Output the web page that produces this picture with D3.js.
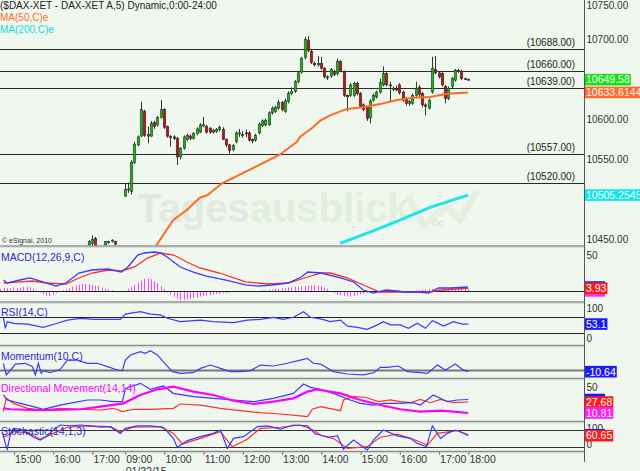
<!DOCTYPE html>
<html><head><meta charset="utf-8">
<script src="https://cdn.jsdelivr.net/npm/d3@7"></script>
<style>
body{margin:0;background:#f0f7ef;}
svg{display:block;}
text{font-family:"Liberation Sans",Arial,sans-serif;}
</style></head>
<body><svg id="c" width="640" height="471"></svg>
<script>
// ---------------- DATA ----------------
const headerText = "($DAX-XET - DAX-XET A,5) Dynamic,0:00-24:00";
const ma50Name = "MA(50,C)e", ma200Name = "MA(200,C)e";
const timeLabels = ["15:00","16:00","17:00","09:00","10:00","11:00","12:00","13:00","14:00","15:00","16:00","17:00","18:00"];
const timeIdx    = [4,16,28,38,50,62,74,86,98,110,122,134,143];
const dateLabel = "01/22/15", dateIdx = 38;
const priceTicks = [10450,10550,10600,10700,10750];
const levels = [10688,10660,10639,10557,10520];

// day 1 (only the bars that reach into the visible price range)
const d1Idx   = [27,28,29,32,33,34,35];
const d1Open  = [10443,10445,10451,10443,10446,10448,10447];
const d1High  = [10449,10455,10453,10448,10448,10450,10448];
const d1Low   = [10440,10442,10440,10441,10444,10446,10442];
const d1Close = [10447,10450,10442,10447,10447,10449,10444];

// day 2, 5-minute bars from 09:00 (bar index 38 onward)
const d2Start = 38;
const d2Open  = [10504,10512,10510,10546,10568,10579,10610,10581,10579,10596,10593,10602,10612,10591,10579,10578,10576,10553,10564,10575,10579,10576,10582,10584,10592,10591,10589,10584,10585,10587,10587,10575,10568,10562,10572,10582,10581,10583,10583,10575,10574,10583,10592,10593,10593,10608,10610,10614,10621,10610,10622,10632,10635,10647,10659,10677,10699,10685,10670,10668,10670,10664,10653,10654,10660,10657,10672,10659,10630,10630,10630,10645,10632,10618,10615,10602,10624,10628,10634,10643,10657,10643,10637,10638,10643,10634,10626,10620,10620,10630,10640,10632,10618,10614,10634,10662,10658,10657,10641,10626,10641,10649,10661,10660,10651,10650];
const d2High  = [10520,10521,10549,10572,10580,10622,10612,10591,10598,10598,10604,10624,10614,10592,10580,10580,10578,10565,10580,10582,10581,10584,10590,10595,10603,10593,10590,10588,10589,10592,10590,10576,10569,10569,10585,10588,10585,10587,10585,10576,10582,10596,10600,10601,10610,10616,10617,10624,10623,10626,10635,10640,10649,10660,10678,10703,10704,10687,10672,10679,10678,10665,10655,10664,10662,10676,10674,10661,10631,10645,10647,10647,10634,10620,10617,10625,10632,10636,10651,10666,10659,10647,10641,10642,10645,10636,10628,10624,10632,10647,10643,10634,10620,10626,10678,10679,10660,10659,10643,10641,10653,10663,10663,10662,10652,10651];
const d2Low   = [10503,10508,10506,10544,10566,10578,10578,10570,10578,10588,10591,10601,10588,10577,10566,10574,10543,10550,10562,10573,10574,10575,10580,10583,10590,10582,10582,10582,10583,10585,10574,10565,10557,10560,10570,10578,10577,10578,10572,10570,10572,10581,10590,10591,10592,10606,10608,10612,10610,10608,10620,10630,10633,10645,10657,10675,10684,10669,10666,10666,10662,10651,10649,10652,10654,10655,10659,10628,10610,10628,10628,10630,10614,10610,10598,10595,10622,10626,10632,10641,10641,10622,10635,10635,10631,10622,10617,10617,10618,10628,10628,10615,10605,10612,10632,10656,10651,10641,10620,10624,10639,10647,10658,10649,10649,10649];
const d2Close = [10512,10513,10546,10569,10578,10612,10580,10579,10595,10591,10602,10612,10590,10579,10577,10576,10553,10564,10578,10580,10576,10582,10588,10593,10593,10584,10584,10586,10587,10590,10575,10568,10561,10567,10583,10583,10580,10582,10574,10573,10580,10594,10598,10599,10608,10614,10615,10621,10612,10623,10632,10635,10647,10658,10676,10700,10686,10671,10668,10670,10664,10653,10652,10662,10656,10672,10661,10630,10628,10643,10645,10632,10616,10612,10601,10623,10630,10634,10646,10657,10643,10642,10639,10637,10633,10624,10620,10622,10630,10639,10631,10618,10616,10624,10664,10658,10653,10643,10626,10639,10651,10661,10660,10651,10650,10649.58];

const ma50Idx = [47.3,52.8,57.1,61.0,63.2,67.8,76.3,85.5,90.7,91.6,95.6,97.7,100.8,106,110.9,116.1,121.3,126.2,131.4,136.6,143];
const ma50Val = [10440,10474,10487,10502,10505,10520,10537,10556,10572,10578,10590,10598,10605,10613,10615,10619,10624,10627,10628,10632,10633.6144];
const ma200Idx = [103.9,113,122.2,131.4,143];
const ma200Val = [10445,10459,10474,10490,10505.2545];

const macdIdx = [1,2,6,9,13,17,20,24,28,33,37,39,42,44,47,49,51,55,59,63,69,75,79,83,88,92,94,98,104,108,111,114,118,124,128,131,134,138,143];
const macdVal = [15.7,11.4,15.7,18.6,12.9,7.1,11.4,25.7,30,31.4,27.1,34.3,51.4,54.3,55.7,54.3,48.6,34.3,27.1,21.4,15.7,8.6,7.1,8.6,11.4,20,27.1,25.7,18.6,12.9,1.4,-2.9,1.4,-1.4,-1.4,-2.9,4.3,4.3,5.7];
const sigIdx = [1,6,10,14,20,24,28,33,37,41,45,49,53,57,61,67,75,82,88,94,98,101,106,111,116,120,126,131,135,143];
const sigVal = [11.4,12.9,14.3,11.4,10,18.6,25.7,30,28.6,34.3,47.1,54.3,51.4,41.4,32.9,25.7,12.9,10,11.4,20,25.7,25.7,18.6,8.6,-1.4,-1.4,-1.4,-1.4,1.4,3.93];
const histVal = [3,4,4,4,5,4, 5,6,6,5, 3,1, -2,-5,-7,-7,-5,-3, -1,1, 2,4,6,8,9,10,10,10,9,8,7, 5,3,2,1, 0,-1,-2,-1, 3,6,9,12,15,17,18,17, 14,11,7,3, -2,-5,-8,-11,-13,-13,-12,-11,-10,-9,-8, -7,-6,-6,-5,-4,-4,-3,-3,-2,-2,-1,-1, 0,-1,0,-1,0,0,1,1, 2,2,3,3,4,4,5,5,6,6,7,7,8,8,9,8,7, 5,3, -1,-3,-5,-6,-7,-8,-8,-7,-6,-5,-4,-3,-2, -1,0,1,1,0,-1,0,1,1,0,-1,-1,0,1,1, 2,2,3,3,3,3,3,3,2,2,2,3,3,3,3];

const rsiIdx = [0.9,1.5,2.1,4,8.3,13.1,17.4,20.5,24.5,28.4,33.6,36.7,38.2,42.8,45.9,48.9,51.1,55,61.2,65.1,71.3,75.5,79.5,83.5,86.5,89.6,92.7,94.8,97.9,100.9,104,106.1,109.2,112.2,115.3,117.1,119.3,122.3,124.8,127.5,130,132.1,133.6,135.5,138.5,141.3,143.1];
const rsiVal = [70,42.5,59,55,53,45,55,63,67.5,65,65,65,78,84,78,76,67.5,59,63,59,56.5,63,65,70,65,70,84,70,66,59,63,48,45,40,51,59,51,51,42.5,55,42.5,61.5,56,48,59,53,53.1];

const momIdx = [0.9,1.8,3.1,4.6,7.6,9.8,10.7,11.6,12.5,13.1,15.3,18.3,20.5,23.5,26.6,29.7,32.7,35.8,37.3,38.2,39.8,42.8,44.3,45.9,48,49.8,52.6,55,59,61.2,64.2,67.3,70.3,73.4,76.5,79.5,83.5,87.8,91.7,93.9,95.7,97.9,101.8,106.1,111,114.1,116.2,118.3,121.7,124.5,128.4,130.6,133.6,136.1,139.1,141.3,143.1];
const momVal = [42,-31,0,37,42,21,-31,42,-21,-4,-17,4,62,62,42,42,21,0,-4,62,94,115,104,121,94,52,-10,-21,-17,10,31,10,-10,-10,-4,31,25,42,62,73,42,37,-10,-25,-31,-17,17,17,25,-10,-17,-21,31,0,37,4,-10.64];

const adxIdx = [0.9,3.1,10.1,15.3,24.5,30.6,37.6,42.8,48,52.9,59,65.1,71.3,77.4,83.5,89.6,93.9,96.9,97.9,104,110.1,116.2,122.3,128.4,134.6,138.5,143.1];
const adxVal = [18,16.5,15.4,15.4,16.5,20.5,25.6,38.5,47.2,51.3,43.6,38.5,29.7,24.6,28.2,33.3,43.6,47.2,46.2,41,30.8,23,16.5,12.8,14.3,12.8,10.81];
const pdiIdx = [0.9,2.1,6.1,10.1,13.1,18.3,22.3,26.6,30.6,34.6,37.3,38.2,42.8,45.9,49.8,52.9,59,65.1,71.3,77.4,83.5,89.6,92.7,94.8,97.9,101.8,107,110.1,114.1,117.1,121.4,126.3,128.4,132.4,136.7,139.8,143.1];
const pdiVal = [38.5,30.8,25.6,20.5,16.5,23,26.6,30.8,30.8,28.2,28.2,48.7,56.4,47.2,52.3,41,35.9,33.3,30.8,28.2,33.3,41,55.4,50.3,47.2,41,30.8,25.6,23,25.6,25.6,26.6,23,38.5,28.2,30.8,31.5];
const mdiIdx = [0.9,1.8,4,8.3,13.1,18.3,24.5,30.6,34.6,37.3,40.7,45.9,52.9,55,61.2,67.3,73.4,79.5,85.6,91.7,93.9,95.4,97.9,104,104.9,108,111.6,115.6,119.3,122.3,125.4,128.4,131.5,134.6,138.5,143.1];
const mdiVal = [12.8,33.3,25.6,18,15.4,18,16.5,15.4,18,12.8,16.5,16.5,18,24.6,23,18,14.3,11.2,9.2,6.2,5.1,16.5,20.5,14.3,30.8,35.9,35,28.2,30.8,28.2,26.6,31.8,26.6,31.8,26.6,27.68];

const stkIdx = [0.6,1.5,2.1,3.1,4,6.1,8.3,10.1,12.2,14.4,16.2,18.3,21.4,24.5,27.5,30.6,33.6,36.7,38.2,41.9,45.9,49.8,52.9,54.1,57.2,61.2,65.1,67.3,69.4,71.3,74.3,78.6,81.7,85.6,89.6,93.9,96.3,97.9,100,103.1,104.9,108,112.2,114.1,117.1,121.4,125.4,127.5,130.3,132.1,134.6,136.7,139.1,143.1];
const stkVal = [75,33,12,69,87,84,69,55,45,60,81,99,96,99,96,91,93,69,87,96,96,91,51,19,43,57,69,81,15,51,57,93,96,84,99,96,67,63,55,60,12,45,9,45,81,60,51,33,21,96,51,69,81,64];
const stdIdx = [0.6,2.1,4,8.3,12.2,16.2,20.5,26.6,33.6,36.7,40.7,48.9,52.9,55.7,61.2,67.3,70.9,75.5,79.5,85.6,91.7,95.7,97.9,101.8,106.1,112.2,116.2,121.4,126.3,130.6,133.6,139.8,143.1];
const stdVal = [57,60,75,72,48,69,91,96,93,75,91,93,69,31,51,75,21,48,87,91,99,81,62,51,15,21,55,66,48,27,69,79,60.65];

// ---------------- LAYOUT ----------------
const svg = d3.select("#c");
const AX = 584.5; // right axis line
const F = "Liberation Sans, Arial, sans-serif";
const panes = {
  main:{top:0,bottom:245.5},
  macd:{top:247,bottom:301.5},
  rsi:{top:303.5,bottom:345},
  mom:{top:347,bottom:378},
  dm:{top:380,bottom:421},
  sto:{top:423,bottom:451}
};
const x = d3.scaleLinear().domain([0,143]).range([0.4,468]);
const yMain = d3.scaleLinear().domain([10450,10700]).range([239.3,39.3]);
const yMacd = d3.scaleLinear().domain([0,50]).range([291,256]);
const yRsi  = d3.scaleLinear().domain([30,70]).range([333.3,317.3]);
const yMom  = d3.scaleLinear().domain([0,100]).range([370,354]);
const yDm   = d3.scaleLinear().domain([0,50]).range([420,387.5]);
const ySto  = d3.scaleLinear().domain([20,80]).range([447,430.3]);

const defs = svg.append("defs");
function paneG(name){
  const p = panes[name];
  defs.append("clipPath").attr("id","clip-"+name).append("rect")
    .attr("x",0).attr("y",p.top).attr("width",AX).attr("height",p.bottom-p.top);
  return svg.append("g").attr("clip-path","url(#clip-"+name+")");
}

// watermark
const wm = svg.append("g");
wm.append("text").attr("x",137).attr("y",222).attr("font-size",40).attr("font-weight","bold")
  .style("font-family",F)
  .call(t=>{t.append("tspan").attr("fill","#e2e8e2").text("Tages");
            t.append("tspan").attr("fill","#e1efdb").text("ausblick");});
wm.append("path").attr("d","M408,196 L424,226 L446,206 L460,220 L477,190")
  .attr("fill","none").attr("stroke","#e5f0e1").attr("stroke-width",7).attr("stroke-linejoin","round");
wm.append("text").attr("x",432).attr("y",226).attr("font-size",10).attr("font-weight","bold")
  .attr("fill","#e0e6e0").text("de");

// main pane
const gM = paneG("main");
gM.selectAll("line.lvl").data(levels).join("line").attr("class","lvl")
  .attr("x1",0).attr("x2",AX).attr("y1",d=>Math.round(yMain(d))+0.5).attr("y2",d=>Math.round(yMain(d))+0.5)
  .attr("stroke","#2a2a2a").attr("stroke-width",1);
gM.selectAll("text.lvl").data(levels).join("text").attr("class","lvl")
  .attr("x",575).attr("y",d=>yMain(d)-3).attr("text-anchor","end").attr("font-size",10).attr("fill","#222")
  .text(d=>"("+d.toFixed(2)+")");

const candles = d1Idx.map((i,k)=>({i,o:d1Open[k],h:d1High[k],l:d1Low[k],c:d1Close[k]}))
  .concat(d2Open.map((o,j)=>({i:d2Start+j,o,h:d2High[j],l:d2Low[j],c:d2Close[j]})));
gM.selectAll("line.wick").data(candles).join("line").attr("class","wick")
  .attr("x1",d=>Math.round(x(d.i))+0.5).attr("x2",d=>Math.round(x(d.i))+0.5)
  .attr("y1",d=>yMain(d.h)).attr("y2",d=>yMain(d.l)).attr("stroke","#333").attr("stroke-width",1);
gM.selectAll("rect.body").data(candles).join("rect").attr("class","body")
  .attr("x",d=>Math.round(x(d.i))-0.8).attr("width",2.6)
  .attr("y",d=>yMain(Math.max(d.o,d.c)))
  .attr("height",d=>Math.max(1,Math.abs(yMain(d.o)-yMain(d.c))))
  .attr("fill",d=>d.c>=d.o?"#1fb01f":"#b01818").attr("stroke","#2a2a2a").attr("stroke-width",0.5);

const lineXY = (idx,vals,ys)=>d3.line().x((d,k)=>x(idx[k])).y(d=>ys(d))(vals);
gM.append("path").attr("d",lineXY(ma50Idx,ma50Val,yMain)).attr("fill","none").attr("stroke","#ff6a20").attr("stroke-width",2);
gM.append("path").attr("d",lineXY(ma200Idx,ma200Val,yMain)).attr("fill","none").attr("stroke","#1ee6e6").attr("stroke-width",3);

svg.append("text").attr("x",2).attr("y",243).attr("font-size",7).attr("fill","#333").text("© eSignal, 2010");
svg.append("text").attr("x",0).attr("y",9).attr("font-size",10).attr("fill","#222").text(headerText);
svg.append("text").attr("x",0).attr("y",20.5).attr("font-size",10).attr("fill","#ff6a30").text(ma50Name);
svg.append("text").attr("x",0).attr("y",33).attr("font-size",10).attr("fill","#10dada").text(ma200Name);

// MACD
const gC = paneG("macd");
gC.selectAll("line.h").data(histVal).join("line").attr("class","h")
  .attr("x1",(d,i)=>Math.round(x(i))+0.5).attr("x2",(d,i)=>Math.round(x(i))+0.5)
  .attr("y1",yMacd(0)).attr("y2",d=>yMacd(d)).attr("stroke","#ff44ff").attr("stroke-width",1);
gC.append("line").attr("x1",0).attr("x2",AX).attr("y1",291.5).attr("y2",291.5).attr("stroke","#222");
gC.append("path").attr("d",lineXY(sigIdx,sigVal,yMacd)).attr("fill","none").attr("stroke","#ff2a2a").attr("stroke-width",1.3);
gC.append("path").attr("d",lineXY(macdIdx,macdVal,yMacd)).attr("fill","none").attr("stroke","#3a3aff").attr("stroke-width",1.3);
svg.append("text").attr("x",1).attr("y",261).attr("font-size",10.5).attr("fill","#2b2bd0").text("MACD(12,26,9,C)");

// RSI
const gR = paneG("rsi");
[70,30].forEach(v=>gR.append("line").attr("x1",0).attr("x2",AX).attr("y1",Math.round(yRsi(v))+0.5).attr("y2",Math.round(yRsi(v))+0.5).attr("stroke","#222"));
gR.append("path").attr("d",lineXY(rsiIdx,rsiVal,yRsi)).attr("fill","none").attr("stroke","#3a3aff").attr("stroke-width",1.2);
svg.append("text").attr("x",1).attr("y",316).attr("font-size",10.5).attr("fill","#2b2bd0").text("RSI(14,C)");

// Momentum
const gO = paneG("mom");
gO.append("line").attr("x1",0).attr("x2",AX).attr("y1",370.5).attr("y2",370.5).attr("stroke","#777").attr("stroke-width",2);
gO.append("path").attr("d",lineXY(momIdx,momVal,yMom)).attr("fill","none").attr("stroke","#3a3aff").attr("stroke-width",1.2);
svg.append("text").attr("x",1).attr("y",360).attr("font-size",10.5).attr("fill","#2b2bd0").text("Momentum(10,C)");

// Directional movement
const gD = paneG("dm");
gD.append("path").attr("d",lineXY(mdiIdx,mdiVal,yDm)).attr("fill","none").attr("stroke","#ff3030").attr("stroke-width",1.2);
gD.append("path").attr("d",lineXY(pdiIdx,pdiVal,yDm)).attr("fill","none").attr("stroke","#3a3aff").attr("stroke-width",1.2);
gD.append("path").attr("d",lineXY(adxIdx,adxVal,yDm)).attr("fill","none").attr("stroke","#ff00ff").attr("stroke-width",2.2);
svg.append("text").attr("x",1).attr("y",391.5).attr("font-size",10.5).attr("fill","#ff00ff").text("Directional Movement(14,14)");

// Stochastic
const gS = paneG("sto");
[80,20].forEach(v=>gS.append("line").attr("x1",0).attr("x2",AX).attr("y1",Math.round(ySto(v))+0.5).attr("y2",Math.round(ySto(v))+0.5).attr("stroke","#333"));
svg.append("text").attr("x",1).attr("y",435).attr("font-size",10.5).attr("fill","#2b2bd0").text("Stochastic(14,1,3)");
gS.append("path").attr("d",lineXY(stdIdx,stdVal,ySto)).attr("fill","none").attr("stroke","#ff3030").attr("stroke-width",1.2);
gS.append("path").attr("d",lineXY(stkIdx,stkVal,ySto)).attr("fill","none").attr("stroke","#3a3aff").attr("stroke-width",1.2);

// pane separators
Object.values(panes).forEach(p=>{
  svg.append("line").attr("x1",0).attr("x2",AX).attr("y1",p.bottom+0.5).attr("y2",p.bottom+0.5).attr("stroke","#8c8c8c").attr("stroke-width",1.5);
  svg.append("line").attr("x1",0).attr("x2",AX).attr("y1",p.bottom+1.8).attr("y2",p.bottom+1.8).attr("stroke","#d4d8d4").attr("stroke-width",1);
});
// right axis line
svg.append("line").attr("x1",AX).attr("x2",AX).attr("y1",0).attr("y2",462).attr("stroke","#555");

// right axes
function rightAxis(scale,ticks,fmt,pane){
  const g = svg.append("g").attr("transform",`translate(${AX},0)`)
    .call(d3.axisRight(scale).tickValues(ticks).tickFormat(fmt).tickSize(0).tickPadding(2));
  g.select(".domain").remove();
  g.selectAll(".tick").attr("transform",d=>`translate(0,${Math.max(pane.top+5.5,Math.min(pane.bottom-6,scale(d)))})`);
  g.selectAll("text").attr("font-size",10).attr("fill","#333").style("font-family",F);
}
rightAxis(yMain,priceTicks,d3.format(".2f"),panes.main);
rightAxis(yMacd,[50],d3.format("d"),panes.macd);
rightAxis(yRsi,[100,0],d3.format("d"),panes.rsi);
rightAxis(yDm,[50],d3.format("d"),panes.dm);
rightAxis(ySto,[100,0],d3.format("d"),panes.sto);

// value boxes
function vbox(yc,label,fill,w){
  const g = svg.append("g");
  const t = g.append("text").attr("x",AX+1.5).attr("y",yc+3.8).attr("font-size",10.5).attr("fill","#fff").text(label);
  const tw = w || (t.node().getComputedTextLength()+2);
  g.insert("rect","text").attr("x",AX+0.5).attr("y",yc-5.8).attr("width",tw).attr("height",11.6).attr("fill",fill);
}
vbox(yMain(d2Close[d2Close.length-1]), d2Close[d2Close.length-1].toFixed(2), "#14e014");
vbox(yMain(ma50Val[ma50Val.length-1]), ma50Val[ma50Val.length-1].toFixed(4), "#ff6a2a", 56);
vbox(yMain(ma200Val[ma200Val.length-1]), ma200Val[ma200Val.length-1].toFixed(4), "#10e8e8", 56);
vbox(yMacd(macdVal[macdVal.length-1]), "", "#2020ff", 20);
vbox(yMacd(histVal[histVal.length-1])+2, "", "#ff30ff", 20);
vbox(yMacd(sigVal[sigVal.length-1]), sigVal[sigVal.length-1].toFixed(2), "#ff1a1a");
vbox(yRsi(rsiVal[rsiVal.length-1]), rsiVal[rsiVal.length-1].toFixed(1), "#1a1aff");
vbox(yMom(momVal[momVal.length-1]), momVal[momVal.length-1].toFixed(2), "#1a1aff");
vbox(yDm(pdiVal[pdiVal.length-1]), "", "#1a1aff", 20);
vbox(yDm(mdiVal[mdiVal.length-1]), mdiVal[mdiVal.length-1].toFixed(2), "#ff1a1a");
vbox(yDm(adxVal[adxVal.length-1]), adxVal[adxVal.length-1].toFixed(2), "#ff1aff");
vbox(ySto(stkVal[stkVal.length-1]), "", "#1a1aff", 20);
vbox(ySto(stdVal[stdVal.length-1]), stdVal[stdVal.length-1].toFixed(2), "#ff1a1a");

// time axis
const gx = svg.append("g").attr("transform","translate(0,452)")
  .call(d3.axisBottom(x).tickValues(timeIdx).tickFormat((d,k)=>timeLabels[k]).tickSize(3).tickPadding(1));
gx.select(".domain").remove();
gx.selectAll("line").attr("stroke","#777").attr("transform","translate(0.5,0)");
gx.selectAll("text").attr("text-anchor","start").attr("dx",1).attr("y",4).attr("font-size",10.5).attr("fill","#333").style("font-family",F);
svg.append("text").attr("x",x(dateIdx)+1).attr("y",475).attr("font-size",10.5).attr("fill","#333").text(dateLabel);
</script></body></html>
